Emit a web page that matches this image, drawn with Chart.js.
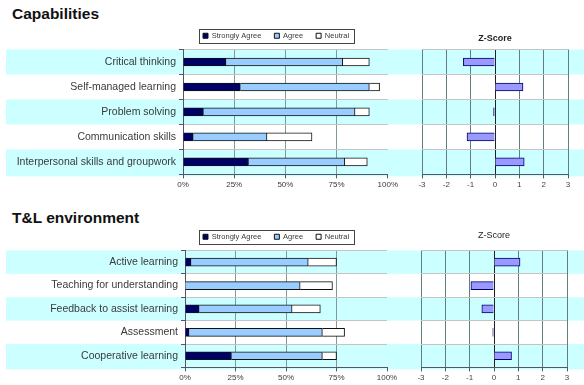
<!DOCTYPE html>
<html>
<head>
<meta charset="utf-8">
<script src="https://cdn.jsdelivr.net/npm/chart.js@4.4.1/dist/chart.umd.min.js"></script>
<style>
  body { margin: 0; background: #fff; width: 584px; height: 385px; overflow: hidden; position: relative; font-family: 'Liberation Sans', Arial, sans-serif; }
  .title { position: absolute; left: 12px; font-weight: bold; font-size: 15.5px; color: #111; }
  .box { position: absolute; }
</style>
</head>
<body>
<div class="title" style="top:5px">Capabilities</div>
<div class="box" style="left:0;top:19px;width:400px;height:173px"><canvas id="cap-chart"></canvas></div>
<div class="box" style="left:400px;top:19px;width:184px;height:173px"><canvas id="cap-z"></canvas></div>

<div class="title" style="top:209px">T&amp;L environment</div>
<div class="box" style="left:0;top:220px;width:400px;height:165px"><canvas id="tl-chart"></canvas></div>
<div class="box" style="left:400px;top:220px;width:184px;height:165px"><canvas id="tl-z"></canvas></div>

<script>
// Capabilities survey (% of respondents)
const capLabels = ['Critical thinking', 'Self-managed learning', 'Problem solving', 'Communication skills', 'Interpersonal skills and groupwork'];
const capStrong = [21, 28, 10, 5, 32];
const capAgree = [57, 63, 74, 36, 47];
const capNeutral = [13, 5, 7, 22, 11];
const capZ = [-1.3, 1.15, -0.06, -1.15, 1.2];

// T&L environment survey (% of respondents)
const tlLabels = ['Active learning', 'Teaching for understanding', 'Feedback to assist learning', 'Assessment', 'Cooperative learning'];
const tlStrong = [3, 0, 7, 2, 23];
const tlAgree = [58, 57, 46, 66, 45];
const tlNeutral = [14, 16, 14, 11, 7];
const tlZ = [1.07, -0.95, -0.5, -0.05, 0.72];

const pctTicks = [0, 25, 50, 75, 100];
const zTicks = [-3, -2, -1, 0, 1, 2, 3];

const FONT = "'Liberation Sans', Arial, sans-serif";
const TEXT = '#3a3a3a';
const AXIS = '#556';

// cyan bands behind every other category row
const bandPlugin = {
  id: 'bands',
  beforeDraw(chart, args, opts) {
    const y = chart.scales.y;
    const ctx = chart.ctx;
    const step = y.getPixelForValue(1) - y.getPixelForValue(0);
    ctx.save();
    ctx.fillStyle = '#ccffff';
    chart.data.labels.forEach((lbl, i) => {
      if (i % 2) return;
      const c = y.getPixelForValue(i);
      ctx.fillRect(opts.left || 0, c - step / 2, chart.width, step + (i === 4 ? 2 : 0));
    });
    ctx.restore();
  }
};

// nudge the legend sideways and draw a thin frame round it
const legendBoxPlugin = {
  id: 'legendBox',
  afterLayout(chart, args, opts) {
    const lg = chart.legend;
    if (!lg) return;
    lg.left += opts.shift || 0;
    lg.right += opts.shift || 0;
  },
  afterDraw(chart) {
    const lg = chart.legend;
    if (!lg || !lg.legendHitBoxes || !lg.legendHitBoxes.length) return;
    const hb = lg.legendHitBoxes;
    const first = hb[0], last = hb[hb.length - 1];
    const ctx = chart.ctx;
    ctx.save();
    ctx.strokeStyle = '#444';
    ctx.lineWidth = 1;
    const x0 = Math.round(first.left - 4) + 0.5;
    const x1 = Math.round(last.left + last.width + 5) + 0.5;
    const y0 = Math.round(first.top - 3) + 0.5;
    const y1 = Math.round(first.top + first.height + 3) + 0.5;
    ctx.strokeRect(x0, y0, x1 - x0, y1 - y0);
    ctx.restore();
  }
};

function pctChart(id, labels, strong, agree, neutral, leftEdge, plotWidth, labelPad, shift) {
  const common = { borderColor: '#111', borderWidth: 1, barThickness: 8 };
  return new Chart(document.getElementById(id), {
    type: 'bar',
    data: {
      labels: labels,
      datasets: [
        { label: 'Strongly Agree', data: strong, backgroundColor: '#000066', ...common },
        { label: 'Agree', data: agree, backgroundColor: '#99ccff', ...common },
        { label: 'Neutral', data: neutral, backgroundColor: '#ffffff', ...common }
      ]
    },
    plugins: [bandPlugin, legendBoxPlugin],
    options: {
      indexAxis: 'y',
      animation: false,
      responsive: true,
      maintainAspectRatio: false,
      layout: { padding: { left: 0, right: 400 - leftEdge - plotWidth, top: 0, bottom: 0 } },
      scales: {
        x: {
          stacked: true,
          min: 0,
          max: 100,
          afterBuildTicks: s => { s.ticks = pctTicks.map(v => ({ value: v })); },
          ticks: { color: TEXT, font: { family: FONT, size: 8 }, padding: labelPad, callback: v => v + '%' },
          grid: {
            color: c => (c.tick && (c.tick.value === 100 || c.tick.value === 0)) ? 'rgba(0,0,0,0)' : '#7f9a9a',
            tickColor: AXIS,
            tickLength: 4
          },
          border: { color: AXIS }
        },
        y: {
          stacked: true,
          afterFit: s => { s.width = leftEdge; },
          ticks: { color: TEXT, font: { family: FONT, size: 10.5 }, padding: 3 },
          grid: { offset: true, color: '#c4c4c4', tickColor: AXIS, tickLength: 4 },
          border: { color: AXIS }
        }
      },
      plugins: {
        legend: {
          position: 'top',
          align: 'start',
          fullSize: false,
          labels: { color: TEXT, font: { family: FONT, size: 7.5 }, boxWidth: 5, boxHeight: 5, padding: 13 }
        },
        legendBox: { shift: shift },
        tooltip: { enabled: false },
        bands: { left: 6 }
      }
    }
  });
}

function zChart(id, labels, values, boldTitle, plotLeft, titleTop, labelPad) {
  return new Chart(document.getElementById(id), {
    type: 'bar',
    data: {
      labels: labels,
      datasets: [{ label: 'Z-Score', data: values, backgroundColor: '#9999ff', borderColor: '#000066', borderWidth: 1, barThickness: 8 }]
    },
    plugins: [bandPlugin],
    options: {
      indexAxis: 'y',
      animation: false,
      responsive: true,
      maintainAspectRatio: false,
      layout: { padding: { left: plotLeft, right: 184 - plotLeft - 146, top: 0, bottom: 0 } },
      scales: {
        x: {
          min: -3,
          max: 3,
          afterBuildTicks: s => { s.ticks = zTicks.map(v => ({ value: v })); },
          ticks: { color: '#444', font: { family: FONT, size: 8 }, padding: labelPad },
          grid: {
            color: c => (c.tick && c.tick.value === 0) ? '#222' : '#5f8080',
            tickColor: AXIS,
            tickLength: 4
          },
          border: { color: AXIS }
        },
        y: {
          ticks: { display: false },
          grid: { offset: true, color: '#c4c4c4', drawTicks: false },
          border: { display: false }
        }
      },
      plugins: {
        legend: { display: false },
        tooltip: { enabled: false },
        title: {
          display: true,
          text: 'Z-Score',
          color: '#222',
          font: { family: FONT, size: 9, weight: boldTitle ? 'bold' : 'normal' },
          padding: { top: titleTop, bottom: 6 }
        },
        bands: { left: 0 }
      }
    }
  });
}

// line the z-score plot up with the bar plot beside it
function alignTop(zc, ref) {
  const d = ref.chartArea.top - zc.chartArea.top;
  zc.options.plugins.title.padding.bottom += d;
  zc.update();
}

const capBars = pctChart('cap-chart', capLabels, capStrong, capAgree, capNeutral, 183, 206, 2, 7);
const capScore = zChart('cap-z', capLabels, capZ, true, 22, 14, 2);
alignTop(capScore, capBars);

const tlBars = pctChart('tl-chart', tlLabels, tlStrong, tlAgree, tlNeutral, 185, 202, 2, 5);
const tlScore = zChart('tl-z', tlLabels, tlZ, false, 21, 10, 2);
alignTop(tlScore, tlBars);
</script>
</body>
</html>
